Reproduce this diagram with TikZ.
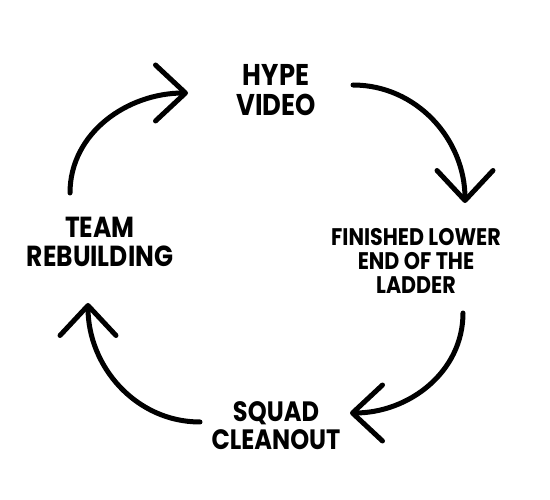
\documentclass[tikz,border=0pt]{standalone}
\usepackage{fontspec}
\setmainfont{Poppins}[UprightFont=* Bold, FakeStretch=0.86]
\usetikzlibrary{arrows.meta}

\begin{document}
\begin{tikzpicture}[x=1pt, y=-1pt,
        label/.style={align=center, inner sep=0pt, font=\fontsize{#1}{#1}\selectfont},
        cycle/.style={line width=5pt, line cap=round, -{Straight Barb[length=30pt, width=56pt, line cap=round, line join=round]}}]
        \useasboundingbox[fill=white] (0, 0) rectangle (550, 500);
        \node[label=30] (H) at (276, 90) {\baselineskip=31pt HYPE\\VIDEO};
        \node[label=24] (L) at (416, 261) {\baselineskip=22.5pt FINISHED LOWER\\END OF THE\\LADDER};
        \node[label=28] (S) at (276, 426) {\baselineskip=25pt SQUAD\\CLEANOUT};
        \node[label=29] (T) at (100, 242) {\baselineskip=28pt TEAM\\REBUILDING};
        \coordinate (H1) at (188, 93);
        \coordinate (H2) at (353, 85);
        \coordinate (L1) at (465, 203);
        \coordinate (L2) at (463, 313);
        \coordinate (S1) at (350, 413);
        \coordinate (S2) at (200, 422);
        \coordinate (T1) at (88, 303);
        \coordinate (T2) at (70, 193);
        \draw[cycle] (T2) to[out=90, in=180] (H1);
        \draw[cycle] (H2) to[out=0, in=90] (L1);
        \draw[cycle] (L2) to[out=-90, in=0] (S1);
        \draw[cycle] (S2) to[out=180, in=-90] (T1);
    \end{tikzpicture}
\end{document}
